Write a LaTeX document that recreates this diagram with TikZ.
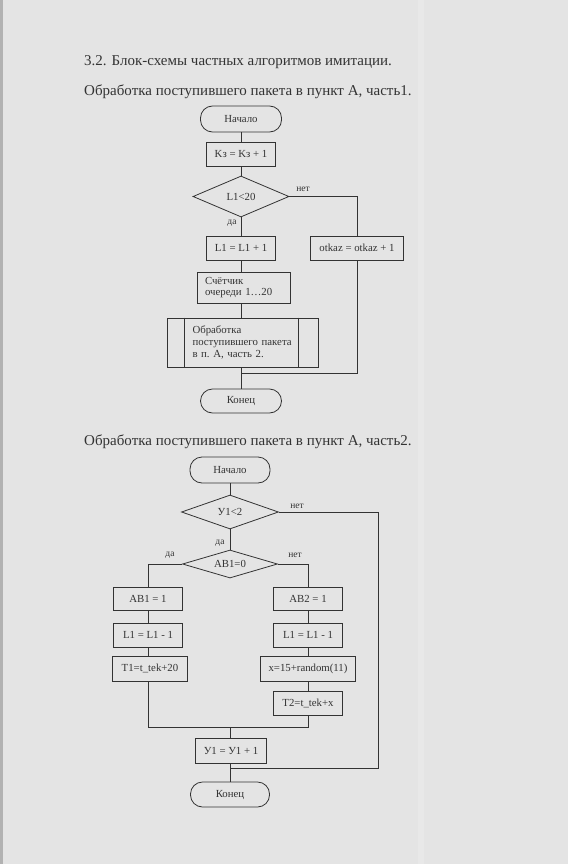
\documentclass[tikz,border=0pt]{standalone}
\usepackage{fontspec}
\setmainfont{Liberation Serif}
\usetikzlibrary{shapes.geometric}
\definecolor{paper}{HTML}{E4E4E4}
\definecolor{ink}{HTML}{333333}
\begin{document}
\begin{tikzpicture}[x=1pt,y=-1pt,
  every node/.style={text=ink},
  line/.style={draw=ink,line width=0.8pt},
  term/.style={line,rectangle,rounded corners=12pt,inner sep=0pt,font=\fontsize{10.8}{12.5}\selectfont},
  proc/.style={line,rectangle,inner sep=0pt,font=\fontsize{10.8}{12.5}\selectfont},
  dec/.style={line,diamond,aspect=3,inner sep=0pt,font=\fontsize{10.8}{12.5}\selectfont},
  lbl/.style={font=\fontsize{9.5}{11}\selectfont,inner sep=0pt},
  head/.style={font=\fontsize{15}{18}\selectfont,anchor=west,inner sep=0pt}]
\fill[paper] (0,0) rectangle (568,864);
\fill[gray!60] (0,0) rectangle (3,864);
\fill[gray!15,opacity=0.6] (418,0) rectangle (424,864);
\useasboundingbox (0,0) rectangle (568,864);

\node[head] (h1) at (84,62) {3.2. Блок-схемы частных алгоритмов имитации.};
\node[head] (h2) at (84,92) {Обработка поступившего пакета в пункт А, часть1.};
\node[head] (h3) at (84,442) {Обработка поступившего пакета в пункт А, часть2.};

% ---- part 1
\node[term,minimum width=81pt,minimum height=26pt] (s1) at (241,119) {Начало};
\node[proc,minimum width=69pt,minimum height=24pt] (k) at (241,154) {Kз = Kз + 1};
\node[dec,minimum width=96pt,minimum height=41pt] (d1) at (241,196.5) {L1<20};
\node[proc,minimum width=69pt,minimum height=24pt] (l1) at (241,248) {L1 = L1 + 1};
\node[proc,minimum width=93pt,minimum height=24pt] (ot) at (357,248) {otkaz = otkaz + 1};
\node[proc,minimum width=93pt,minimum height=31pt,align=left,text width=77pt] (cnt) at (243.5,287.5) {Счётчик\\[-1pt]очереди 1…20};
\node[proc,minimum width=151pt,minimum height=49pt,align=left,text width=100pt] (pp) at (242.5,342.5) {Обработка\\[-0.5pt]поступившего~пакета\\[-0.5pt]в п.~А, часть~2.};
\draw[line] ([xshift=18pt]pp.north west) -- ([xshift=18pt]pp.south west);
\draw[line] ([xshift=-20pt]pp.north east) -- ([xshift=-20pt]pp.south east);
\node[term,minimum width=81pt,minimum height=24pt] (e1) at (241,401) {Конец};
\coordinate (m1) at (241,373);
\coordinate (c1) at (357,196.5);

\draw[line] (s1) -- (k);
\draw[line] (k) -- (d1);
\draw[line] (d1) -- (l1);
\draw[line] (l1) -- (l1 |- cnt.north);
\draw[line] (l1 |- cnt.south) -- (l1 |- pp.north);
\draw[line] (l1 |- pp.south) -- (e1);
\draw[line] (d1.east) -- (c1) -- (ot);
\draw[line] (ot) -- (ot |- m1) -- (m1);
\node[lbl] (n1) at (303,189) {нет};
\node[lbl] (y1) at (232,223) {да};

% ---- part 2
\node[term,minimum width=80pt,minimum height=26pt] (s2) at (230,470) {Начало};
\node[dec,minimum width=97pt,minimum height=34pt] (d2) at (230,512) {У1<2};
\node[dec,minimum width=95pt,minimum height=28pt] (d3) at (230,564) {AB1=0};
\node[proc,minimum width=69pt,minimum height=23pt] (a1) at (148,598.5) {AB1 = 1};
\node[proc,minimum width=69pt,minimum height=24pt] (a2) at (148,635) {L1 = L1 - 1};
\node[proc,minimum width=75pt,minimum height=25pt] (a3) at (150,668.5) {T1=t\_tek+20};
\node[proc,minimum width=69pt,minimum height=23pt] (b1) at (308,598.5) {AB2 = 1};
\node[proc,minimum width=69pt,minimum height=24pt] (b2) at (308,635) {L1 = L1 - 1};
\node[proc,minimum width=95pt,minimum height=25pt] (b3) at (308,668.5) {x=15+random(11)};
\node[proc,minimum width=69pt,minimum height=24pt] (b4) at (308,703) {T2=t\_tek+x};
\node[proc,minimum width=71pt,minimum height=25pt] (u) at (231,750.5) {У1 = У1 + 1};
\node[term,minimum width=79pt,minimum height=25pt] (e2) at (230,794.5) {Конец};
\coordinate (ca) at (148,564);
\coordinate (cb) at (308,564);
\coordinate (m2) at (230,727);
\coordinate (m3) at (230,768);
\coordinate (cr) at (378,512);

\draw[line] (s2) -- (d2);
\draw[line] (d2) -- (d3);
\draw[line] (d3.west) -- (ca) -- (a1);
\draw[line] (d3.east) -- (cb) -- (b1);
\draw[line] (a1) -- (a2);
\draw[line] (a2) -- (a2 |- a3.north);
\draw[line] (a2 |- a3.south) -- (a2 |- m2) -- (m2);
\draw[line] (b1) -- (b2);
\draw[line] (b2) -- (b3);
\draw[line] (b3) -- (b4);
\draw[line] (b4) -- (b4 |- m2) -- (m2);
\draw[line] (m2) -- (m2 |- u.north);
\draw[line] (m2 |- u.south) -- (e2);
\draw[line] (d2.east) -- (cr) -- (cr |- m3) -- (m3);
\node[lbl] (n2) at (297,506) {нет};
\node[lbl] (y2) at (220,543) {да};
\node[lbl] (y3) at (170,555) {да};
\node[lbl] (n3) at (295,555) {нет};
\end{tikzpicture}
\end{document}
